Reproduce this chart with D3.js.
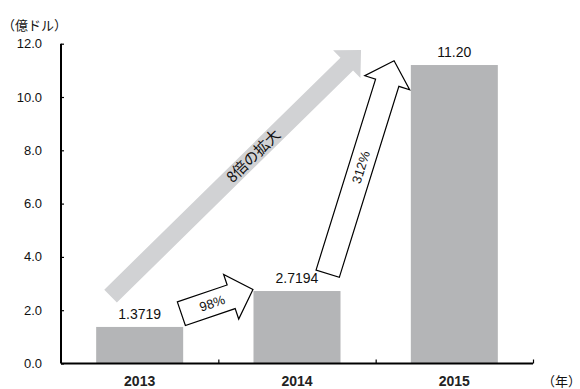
<!DOCTYPE html>
<html><head><meta charset="utf-8">
<script src="https://cdn.jsdelivr.net/npm/d3@7"></script>
<style>
html,body{margin:0;padding:0;background:#fff;}
svg{display:block;}
</style></head>
<body><svg id="c" width="580" height="389"></svg>
<script>
const categories = ["2013", "2014", "2015"];
const values = [1.3719, 2.7194, 11.20];
const valueLabels = ["1.3719", "2.7194", "11.20"];
const yTicks = [0, 2, 4, 6, 8, 10, 12];
const yTickLabels = ["0.0", "2.0", "4.0", "6.0", "8.0", "10.0", "12.0"];
const yUnit = "（億ドル）";
const xUnit = "（年）";
// annotation arrows in data space: x in category units (0..3), y in value units
const arrowNames = ["8倍の拡大", "98%", "312%"];
const arrowFrom = [[0.315, 2.53], [0.765, 1.87], [1.695, 3.37]];
const arrowTo = [[1.907, 11.76], [1.220, 2.78], [2.117, 11.36]];

(function () {
const svg = d3.select("#c");
const pL = 61, pR = 533, pT = 43.7, pB = 363.5;
const x = d3.scaleBand().domain(categories).range([pL, pR]).paddingInner(0.447).paddingOuter(0.2235);
const xc = d3.scaleLinear().domain([0, 3]).range([pL, pR]);
const y = d3.scaleLinear().domain([0, 12]).range([pB, pT]);
const numFont = "'Liberation Sans', Arial, sans-serif";
const cjkFont = "'Noto Sans CJK JP', sans-serif";

// bars
svg.selectAll("rect.bar").data(values).join("rect")
  .attr("x", (d, i) => x(categories[i])).attr("width", x.bandwidth())
  .attr("y", d => y(d)).attr("height", d => y(0) - y(d))
  .attr("fill", "#b4b5b7");

// value labels
svg.selectAll("text.val").data(values).join("text")
  .attr("x", (d, i) => x(categories[i]) + x.bandwidth() / 2)
  .attr("y", d => y(d) - 8)
  .attr("text-anchor", "middle").attr("font-family", numFont).attr("font-size", 14)
  .attr("fill", "#111").text((d, i) => valueLabels[i]);

// y axis
const yAxis = d3.axisRight(y).tickValues(yTicks).tickSize(3).tickFormat("");
const gy = svg.append("g").attr("transform", `translate(${pL},0)`).call(yAxis);
gy.select(".domain").attr("stroke", "#000").attr("stroke-width", 2).attr("d", `M0,${pT}V${pB}`);
gy.selectAll(".tick line").attr("stroke", "#000").attr("stroke-width", 1.2);
svg.selectAll("text.yt").data(yTicks).join("text")
  .attr("x", 42).attr("y", d => y(d) + 4.5).attr("text-anchor", "end")
  .attr("font-family", numFont).attr("font-size", 13).attr("fill", "#111")
  .text((d, i) => yTickLabels[i]);

// x axis
const xAxis = d3.axisTop(xc).tickValues([1, 2, 3]).tickSize(4).tickFormat("");
const gx = svg.append("g").attr("transform", `translate(0,${pB})`).call(xAxis);
gx.select(".domain").attr("stroke", "#000").attr("stroke-width", 2).attr("d", `M${pL},0H${pR}`);
gx.selectAll(".tick line").attr("stroke", "#000").attr("stroke-width", 1.2);
svg.selectAll("text.xt").data(categories).join("text")
  .attr("x", d => x(d) + x.bandwidth() / 2).attr("y", 385.5)
  .attr("text-anchor", "middle").attr("font-family", numFont).attr("font-size", 14)
  .attr("font-weight", "bold").attr("fill", "#222").text(d => d);

// units
svg.append("text").attr("x", 2).attr("y", 30).attr("font-family", cjkFont).attr("font-size", 13)
  .attr("fill", "#111").text(yUnit);
svg.append("text").attr("x", 542).attr("y", 386).attr("font-family", cjkFont).attr("font-size", 13)
  .attr("fill", "#111").text(xUnit);

// arrows
const arrowStyle = [
  {w: 18, hw: 39, hl: 20, fill: "#d1d2d4", stroke: "none", font: 15, fam: cjkFont, off: 0.57},
  {w: 25, hw: 47, hl: 23, fill: "#fff", stroke: "#000", font: 13, fam: numFont, off: 0.43},
  {w: 24.4, hw: 47, hl: 23, fill: "#fff", stroke: "#000", font: 13, fam: numFont, off: 0.5}
];
arrowNames.forEach((name, i) => {
  const s = arrowStyle[i];
  const x0 = xc(arrowFrom[i][0]), y0 = y(arrowFrom[i][1]);
  const x1 = xc(arrowTo[i][0]), y1 = y(arrowTo[i][1]);
  const L = Math.hypot(x1 - x0, y1 - y0);
  const ang = Math.atan2(y1 - y0, x1 - x0) * 180 / Math.PI;
  const pts = [[0, -s.w / 2], [L - s.hl, -s.w / 2], [L - s.hl, -s.hw / 2], [L, 0],
               [L - s.hl, s.hw / 2], [L - s.hl, s.w / 2], [0, s.w / 2]];
  const g = svg.append("g").attr("transform", `translate(${x0},${y0}) rotate(${ang})`);
  g.append("path").attr("d", d3.line()(pts) + "Z").attr("fill", s.fill)
    .attr("stroke", s.stroke).attr("stroke-width", 1.2).attr("stroke-linejoin", "miter");
  g.append("text").attr("x", s.off * L).attr("y", 0).attr("dy", "0.35em")
    .attr("text-anchor", "middle").attr("font-family", s.fam).attr("font-size", s.font)
    .attr("fill", "#111").text(name);
});
})();
</script></body></html>
